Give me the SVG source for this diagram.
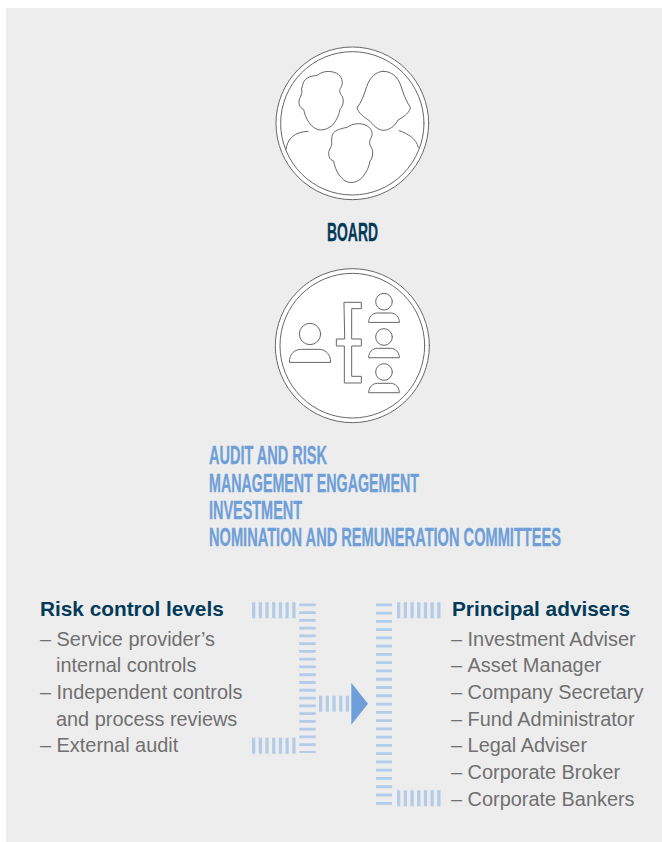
<svg xmlns="http://www.w3.org/2000/svg" width="662" height="842" viewBox="0 0 662 842">
<style>
.ic{fill:#fff;stroke:#666;stroke-width:3;stroke-linejoin:round;stroke-linecap:round}
.ln{fill:none;stroke:#666;stroke-width:3;stroke-linecap:round}
.cd{font-family:"Liberation Sans",Arial,sans-serif;font-weight:700;font-size:25.5px;stroke-width:.3}
.h{font-family:"Liberation Sans",Arial,sans-serif;font-weight:700;font-size:20.8px;fill:#033a5a}
.t{font-family:"Liberation Sans",Arial,sans-serif;font-size:19.9px;fill:#707070}
.nk{font-kerning:none}
.hb{fill:none;stroke:#b4cce8;stroke-width:16;stroke-dasharray:3.3 3.4}
.vb{fill:none;stroke:#b4cce8;stroke-width:16.500;stroke-dasharray:2.8 4.97}
.vr{fill:none;stroke:#b4cce8;stroke-width:16;stroke-dasharray:2.8 5.47}
</style>
<rect x="6" y="8" width="656" height="834" fill="#ededed"/>
<g id="board-icon" transform="translate(260 30) scale(.33333)">
<circle class="ic" cx="277" cy="280" r="229"/>
<circle class="ic" cx="277" cy="280" r="215"/>
<path class="ln" d="M78 358C82 325 105 305 144 304M418 302C445 312 468 325 475 352"/>
<path class="ic" d="M128 165C130 145 150 138 172 136C185 124 210 120 230 130C246 138 251 158 243 172C236 182 240 190 245 197C252 205 252 226 240 238C238 250 232 268 218 285C205 296 190 302 175 299C155 294 136 268 131 238C118 234 114 218 119 205C124 196 128 185 125 178Z"/>
<path class="ic" d="M370 124C395 124 412 140 422 165C430 190 436 210 451 232C452 245 430 262 414 270C405 288 388 301 370 301C352 300 340 285 328 272C312 262 295 248 291 234C305 215 312 195 320 170C330 140 350 124 370 124Z"/>
<path class="ic" d="M216 318C218 302 240 296 262 292C275 280 305 277 322 288C338 298 340 315 331 328C326 338 330 346 334 352C340 362 340 382 330 393C328 408 320 428 306 443C294 455 280 459 266 457C245 452 226 425 221 393C208 390 203 374 208 360C213 352 217 342 215 335Z"/>
</g>
<text id="board-label" class="cd" transform="translate(327 241) scale(.55 1)" fill="#033a5a" stroke="#033a5a" textLength="92.7" lengthAdjust="spacingAndGlyphs">BOARD</text>
<g id="committee-icon" transform="translate(260 260) scale(.33333)">
<circle class="ic" cx="277" cy="257" r="231"/>
<circle class="ic" cx="277" cy="257" r="217"/>
<circle class="ic" cx="150" cy="222" r="32"/>
<path class="ic" d="M88 306C88 280 105 268 125 268H175C195 268 212 280 212 306Z"/>
<path class="ic" d="M253 127H304V146H275V237H304V258H275V349H304V369H253V258H229V237H253Z"/>
<circle class="ic" cx="372" cy="125" r="25"/>
<path class="ic" d="M326 186C326 170 338 159 352 159H392C406 159 418 170 418 186Z"/>
<circle class="ic" cx="372" cy="231" r="25"/>
<path class="ic" d="M326 292C326 276 338 265 352 265H392C406 265 418 276 418 292Z"/>
<circle class="ic" cx="372" cy="336" r="25"/>
<path class="ic" d="M326 397C326 381 338 370 352 370H392C406 370 418 381 418 397Z"/>
</g>
<g id="committees-label" class="cd" fill="#6f9fd8" stroke="#6f9fd8">
<text transform="translate(209 464) scale(.55 1)" textLength="214.500" lengthAdjust="spacingAndGlyphs">AUDIT AND RISK</text>
<text transform="translate(209 491.500) scale(.55 1)" textLength="381.800" lengthAdjust="spacingAndGlyphs">MANAGEMENT ENGAGEMENT</text>
<text transform="translate(209 518.500) scale(.55 1)" textLength="169.100" lengthAdjust="spacingAndGlyphs">INVESTMENT</text>
<text transform="translate(209 545.500) scale(.55 1)" textLength="640" lengthAdjust="spacingAndGlyphs">NOMINATION AND REMUNERATION COMMITTEES</text>
</g>
<g id="risk-control">
<text class="h" x="40" y="616">Risk control levels</text>
<text class="t" x="40" y="646">– Service provider’s</text>
<text class="t" x="56" y="672">internal controls</text>
<text class="t" x="40" y="699">– Independent controls</text>
<text class="t" x="56" y="726">and process reviews</text>
<text class="t" x="40" y="752">– External audit</text>
</g>
<g id="principal-advisers">
<text class="h" x="452" y="616">Principal advisers</text>
<text class="t" x="451" y="646">– Investment Adviser</text>
<text class="t nk" x="451" y="672">– Asset Manager</text>
<text class="t" x="451" y="699">– Company Secretary</text>
<text class="t" x="451" y="726">– Fund Administrator</text>
<text class="t" x="451" y="752">– Legal Adviser</text>
<text class="t" x="451" y="779">– Corporate Broker</text>
<text class="t" x="451" y="806">– Corporate Bankers</text>
</g>
<g id="connectors">
<path class="hb" d="M252 610.300H298M252 745.700H298M319 703.700H350M397 610.300H442M397 798.300H442"/>
<path class="vb" d="M307.500 603.400V753"/>
<path class="vr" d="M384 603.400V805"/>
<path d="M351.300 682.700L368 703.700L351.300 724.700Z" fill="#6f9fd8"/>
</g>
</svg>
